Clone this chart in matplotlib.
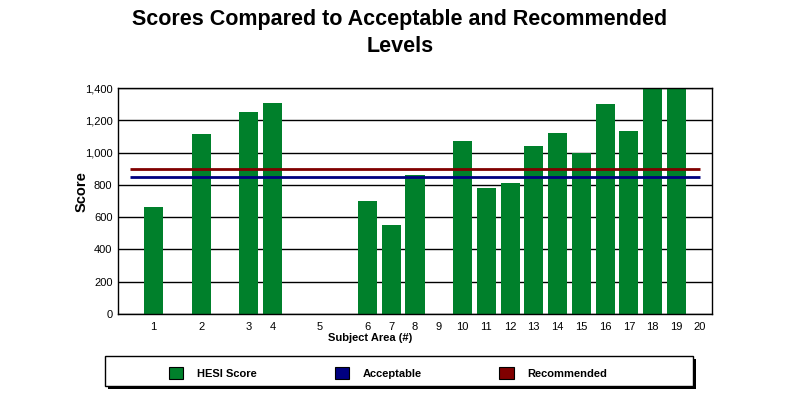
import matplotlib.pyplot as plt
from matplotlib.patches import Patch, Rectangle

# subject areas and HESI scores (0 = no bar shown)
subjects = [str(i) for i in range(1, 21)]
slots = [1, 3, 5, 6, 8, 10, 11, 12, 13, 14, 15, 16, 17, 18, 19, 20, 21, 22, 23, 24]
scores = [660, 1115, 1250, 1305, 0, 700, 552, 860, 0, 1070,
          780, 810, 1040, 1120, 1000, 1300, 1132, 1400, 1400, 0]
acceptable = 850
recommended = 900

GREEN = "#00802B"
BLUE = "#000080"
RED = "#800000"

plt.rcParams["font.family"] = ["Liberation Sans", "DejaVu Sans"]

W, H = 790, 403
fig = plt.figure(figsize=(W / 100, H / 100), dpi=100)
ax = fig.add_axes([118 / W, (H - 314) / H, 594 / W, 226 / H])

ax.bar(slots, scores, width=0.8, color=GREEN, zorder=2)
ax.hlines(recommended, 0, 24, color=RED, lw=2, zorder=3)
ax.hlines(acceptable, 0, 24, color=BLUE, lw=2, zorder=3)

ax.set_xlim(-0.5, 24.5)
ax.set_ylim(0, 1400)
ax.set_yticks(range(0, 1401, 200))
ax.set_yticklabels([f"{v:,}" for v in range(0, 1401, 200)])
ax.set_xticks(slots)
ax.set_xticklabels(subjects)
ax.tick_params(length=0, labelsize=8)
ax.tick_params(axis="x", pad=6)
ax.tick_params(axis="y", pad=4)
ax.yaxis.grid(True, color="black", lw=1, zorder=0)
ax.set_axisbelow(True)
for s in ax.spines.values():
    s.set_color("black")
    s.set_linewidth(1)

fig.text(82 / W, 1 - 192 / H, "Score", rotation=90, fontsize=10.5,
         fontweight="bold", ha="center", va="center")
fig.text(370 / W, 1 - 338 / H, "Subject Area (#)", fontsize=8,
         fontweight="bold", ha="center", va="center")

fig.suptitle("Scores Compared to Acceptable and Recommended\nLevels",
             x=400 / W, y=1 - 9 / H, va="top", fontsize=15.5,
             fontweight="bold", linespacing=1.36)

# legend box with shadow
fig.patches.append(Rectangle((108 / W, 1 - 389 / H), 588 / W, 30 / H,
                             transform=fig.transFigure, facecolor="black",
                             edgecolor="none", zorder=1))
fig.patches.append(Rectangle((105 / W, 1 - 386 / H), 588 / W, 30 / H,
                             transform=fig.transFigure, facecolor="white",
                             edgecolor="black", lw=1, zorder=2))

handles = [Patch(facecolor=GREEN, edgecolor="black", lw=0.8),
           Patch(facecolor=BLUE, edgecolor="black", lw=0.8),
           Patch(facecolor=RED, edgecolor="black", lw=0.8)]
leg = fig.legend(handles, ["HESI Score", "Acceptable", "Recommended"],
                 loc="center left", bbox_to_anchor=(169 / W, 1 - 373 / H),
                 ncol=3, frameon=False, borderpad=0, borderaxespad=0,
                 handlelength=1.27, handleheight=1.27, handletextpad=1.25,
                 columnspacing=7.0, prop={"weight": "bold", "size": 8})
leg.set_zorder(3)

fig.savefig("out.png", dpi=100)
plt.close(fig)
